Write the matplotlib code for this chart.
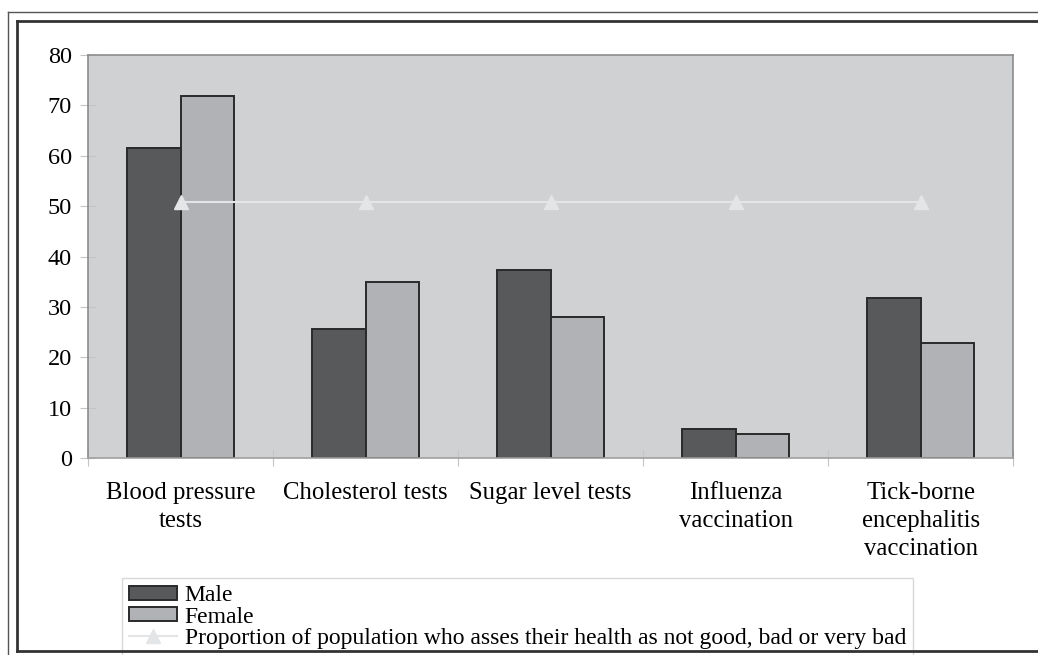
"""Preventive tests / vaccinations by sex, with self-assessed poor health line."""
import matplotlib
matplotlib.use('Agg')
import matplotlib.pyplot as plt
from matplotlib.lines import Line2D
from matplotlib.patches import Patch
import numpy as np

categories = ['Blood pressure\ntests', 'Cholesterol tests', 'Sugar level tests',
              'Influenza\nvaccination', 'Tick-borne\nencephalitis\nvaccination']
male = [61.6, 25.7, 37.4, 5.8, 31.7]
female = [71.9, 34.9, 28.1, 4.8, 22.9]
poor_health = [50.9, 50.9, 50.9, 50.9, 50.9]
yticks = [0, 10, 20, 30, 40, 50, 60, 70, 80]

plt.rcParams['font.family'] = ['Liberation Serif', 'DejaVu Serif']

W, H = 1038, 655
fig = plt.figure(figsize=(W / 100, H / 100), dpi=100)
ax = fig.add_axes([88 / W, 1 - 458.3 / H, (1013.3 - 88) / W, (458.3 - 55) / H])
ax.set_facecolor('#d0d1d3')

x = np.arange(len(categories))
bw = 0.29
ax.bar(x - bw / 2, male, bw, color='#58595b', edgecolor='#2a2a2a', linewidth=1.4, zorder=2)
ax.bar(x + bw / 2, female, bw, color='#b1b2b5', edgecolor='#2a2a2a', linewidth=1.4, zorder=2)
ax.plot(x, poor_health, color='#e4e5e6', linewidth=1.5, marker='^', markersize=10,
        markerfacecolor='#e4e5e6', markeredgecolor='#e4e5e6', zorder=3)

ax.set_xlim(-0.5, len(categories) - 0.5)
ax.set_ylim(0, 80)
ax.set_yticks(yticks)
ax.tick_params(axis='y', direction='inout', length=11, color='#c4c4c4', labelsize=17.5, pad=6)
ax.set_xticks(np.arange(len(categories) + 1) - 0.5)
ax.set_xticklabels([])
ax.set_xticks(x, minor=True)
ax.set_xticklabels(categories, minor=True, linespacing=1.35)
ax.tick_params(axis='x', which='major', direction='inout', length=11, color='#c4c4c4')
ax.tick_params(axis='x', which='minor', length=0, labelsize=17.8, pad=17)
for s in ax.spines.values():
    s.set_color('#8c8c8c')
    s.set_linewidth(1.2)
ax.spines['bottom'].set_color('#a0a0a0')

handles = [Patch(facecolor='#58595b', edgecolor='#2a2a2a', linewidth=1.4),
           Patch(facecolor='#b1b2b5', edgecolor='#2a2a2a', linewidth=1.4),
           Line2D([], [], color='#e4e5e6', linewidth=1.5, marker='^', markersize=10,
                  markerfacecolor='#e4e5e6', markeredgecolor='#e4e5e6')]
labels = ['Male', 'Female', 'Proportion of population who asses their health as not good, bad or very bad']
leg = fig.legend(handles, labels, loc='upper left', bbox_to_anchor=(122 / W, 1 - 578 / H),
                 fontsize=17, frameon=True, fancybox=False, framealpha=1, edgecolor='#d8d8d8',
                 handlelength=2.05, handleheight=0.55, handletextpad=0.3, labelspacing=0.02,
                 borderpad=0.3, borderaxespad=0)
leg.get_frame().set_linewidth(1.0)

# double page frame around chart
def hline(y, x0, x1, lw, c):
    fig.add_artist(Line2D([x0 / W, x1 / W], [1 - y / H, 1 - y / H], color=c, linewidth=lw, zorder=10))

def vline(xp, y0, y1, lw, c):
    fig.add_artist(Line2D([xp / W, xp / W], [1 - y0 / H, 1 - y1 / H], color=c, linewidth=lw, zorder=10))

hline(12, 8, W, 1.0, '#555555')
hline(21, 17, W, 2.0, '#333333')
vline(8, 12, H, 1.0, '#555555')
vline(17, 21, 651, 2.0, '#333333')
hline(651, 17, W, 2.0, '#333333')

fig.savefig('out.png', dpi=100)
